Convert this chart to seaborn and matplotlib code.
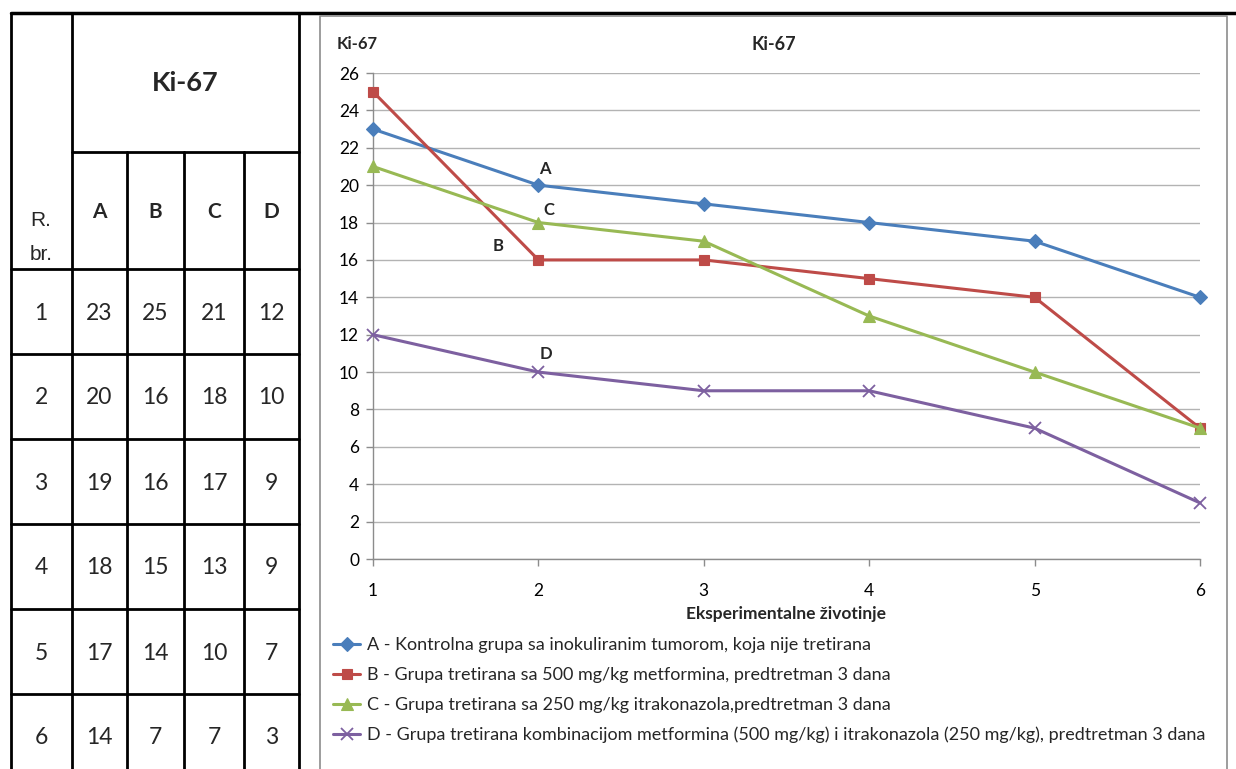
import matplotlib
matplotlib.use("Agg")
import matplotlib.pyplot as plt
import pandas as pd
import seaborn as sns

# =========================
# DATA
# =========================
animals = [1, 2, 3, 4, 5, 6]
ki67_a = [23, 20, 19, 18, 17, 14]
ki67_b = [25, 16, 16, 15, 14, 7]
ki67_c = [21, 18, 17, 13, 10, 7]
ki67_d = [12, 10, 9, 9, 7, 3]

groups = ["A", "B", "C", "D"]
legend_labels = [
    "A - Kontrolna grupa sa inokuliranim tumorom, koja nije tretirana",
    "B - Grupa tretirana sa 500 mg/kg metformina, predtretman 3 dana",
    "C - Grupa tretirana sa 250 mg/kg itrakonazola,predtretman 3 dana",
    "D - Grupa tretirana kombinacijom metformina (500 mg/kg) i itrakonazola (250 mg/kg), predtretman 3 dana",
]
y_ticks = list(range(0, 27, 2))

df = pd.DataFrame({
    "animal": animals * 4,
    "ki67": ki67_a + ki67_b + ki67_c + ki67_d,
    "group": [g for g in groups for _ in animals],
})

colors = {"A": "#4A7EBB", "B": "#BE4B48", "C": "#98B954", "D": "#7D60A0"}
markers = {"A": "D", "B": "s", "C": "^", "D": "x"}
msizes = {"A": 7, "B": 7.5, "C": 8, "D": 8}
# (label, point index, offset in px)
point_labels = [("A", 1, (6, 16)), ("B", 1, (-40, 14)), ("C", 1, (10, 13)), ("D", 1, (8, 18))]

# =========================
# STYLE
# =========================
sns.set_style("white")
plt.rcParams["font.family"] = ["Lato", "DejaVu Sans"]

W, H = 1236, 769
fig = plt.figure(figsize=(W / 100, H / 100), dpi=100)

# background layer in pixel coords (table + chart frame)
bg = fig.add_axes([0, 0, 1, 1])
bg.set_xlim(0, W)
bg.set_ylim(H, 0)
bg.axis("off")

lw = 2.0
col_x = [11, 72, 127, 184, 244, 299]
row_y = [269, 354, 439, 524, 609, 694]
bg.plot([11, W], [13, 13], color="black", lw=2.5)
for x in [11, 72, 299]:
    bg.plot([x, x], [13, H], color="black", lw=lw)
for x in [127, 184, 244]:
    bg.plot([x, x], [152, H], color="black", lw=lw)
bg.plot([72, 299], [152, 152], color="black", lw=lw)
for y in row_y:
    bg.plot([11, 299], [y, y], color="black", lw=lw)

# chart frame
bg.plot([320, 320, 1227, 1227], [H, 16, 16, H], color="#8C8C8C", lw=1.2)

# table text
bg.text((72 + 299) / 2, 83, "Ki-67", ha="center", va="center", fontsize=19.5, fontweight="bold")
for i, g in enumerate(groups):
    cx = (col_x[i + 1] + col_x[i + 2]) / 2
    bg.text(cx, 212, g, ha="center", va="center", fontsize=15, fontweight="bold")
bg.text(41, 220, "R.", ha="center", va="center", fontsize=15, family="Liberation Sans")
bg.text(41, 254, "br.", ha="center", va="center", fontsize=15, family="Liberation Sans")
cols = [ki67_a, ki67_b, ki67_c, ki67_d]
for r, n in enumerate(animals):
    cy = row_y[r] + 44
    bg.text(41, cy, str(n), ha="center", va="center", fontsize=16.5)
    for c in range(4):
        cx = (col_x[c + 1] + col_x[c + 2]) / 2
        bg.text(cx, cy, str(cols[c][r]), ha="center", va="center", fontsize=16.5)

# =========================
# CHART
# =========================
ax = fig.add_axes([373 / W, 1 - 559 / H, (1200 - 373) / W, (559 - 73) / H])
ax.patch.set_alpha(0)

for g in groups:
    sns.lineplot(data=df[df["group"] == g], x="animal", y="ki67", ax=ax,
                 color=colors[g], marker=markers[g], markersize=msizes[g],
                 markeredgecolor=colors[g], markeredgewidth=1.3 if g == "D" else 0.8,
                 linewidth=2.2, legend=False, clip_on=False, zorder=3)

ax.set_xlim(1, 6)
ax.set_ylim(0, 26)
ax.set_xticks(animals)
ax.set_yticks(y_ticks)
ax.yaxis.grid(True, color="#B3B3B3", lw=1.0)
ax.xaxis.grid(False)
for s in ["top", "right"]:
    ax.spines[s].set_visible(False)
for s in ["left", "bottom"]:
    ax.spines[s].set_color("#8C8C8C")
    ax.spines[s].set_linewidth(1.0)
ax.tick_params(axis="both", direction="out", length=5, width=1.0, color="#8C8C8C",
               labelsize=12.5, labelcolor="black", bottom=True, left=True)
ax.tick_params(axis="x", pad=12)
ax.tick_params(axis="y", pad=5)
ax.set_xlabel("Eksperimentalne životinje", fontsize=12.5, fontweight="bold", labelpad=5)
ax.set_ylabel("")

fig.text(357 / W, 1 - 44 / H, "Ki-67", ha="center", va="center", fontsize=12, fontweight="bold")
fig.text(774 / W, 1 - 44 / H, "Ki-67", ha="center", va="center", fontsize=13, fontweight="bold")

series = {"A": ki67_a, "B": ki67_b, "C": ki67_c, "D": ki67_d}
for lab, idx, (dx, dy) in point_labels:
    ax.annotate(lab, (animals[idx], series[lab][idx]), xytext=(dx * 0.72, dy * 0.72),
                textcoords="offset points", ha="center", va="center",
                fontsize=12, fontweight="bold")

fig.legend(ax.lines[:4], legend_labels, loc="upper left",
           bbox_to_anchor=(326 / W, 1 - 630 / H), frameon=False, fontsize=13,
           handlelength=1.5, handletextpad=0.35, labelspacing=0.77, borderaxespad=0)

fig.savefig("out.png", dpi=100)
